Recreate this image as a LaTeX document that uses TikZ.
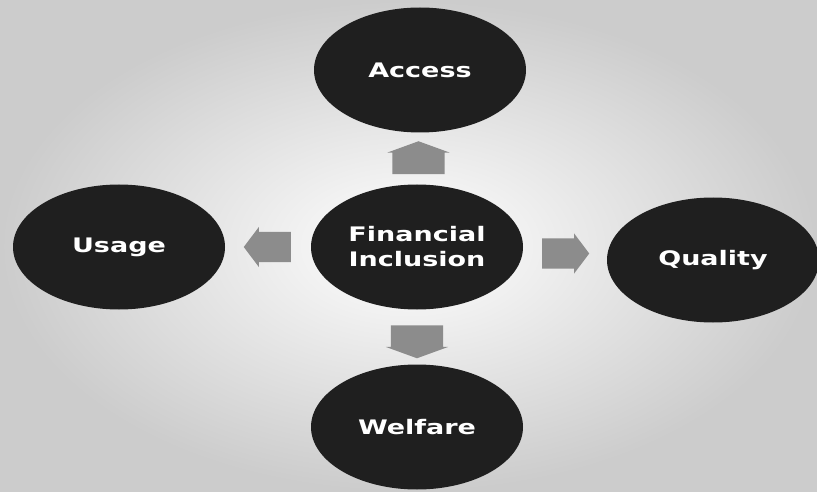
\documentclass[tikz,border=0pt]{standalone}
\usepackage{fontspec}
\setmainfont{DejaVu Sans}
\usetikzlibrary{shapes.geometric,shapes.arrows,calc}

\newcommand{\widetext}[1]{\scalebox{1.35}[1]{#1}}

\tikzset{
    bubble/.style={ellipse, fill=black!88, text=white, inner sep=0pt,
        minimum width=212pt, minimum height=125pt,
        font=\bfseries\fontsize{20}{25}\selectfont, align=center},
    blockarrow/.style={single arrow, fill=black!45, inner xsep=0pt,
        single arrow head extend=5pt},
    flatarrow/.style={blockarrow, inner ysep=26pt, single arrow tip angle=140,
        minimum height=33pt, minimum width=62pt},
    sidearrow/.style={blockarrow, inner ysep=15pt, single arrow tip angle=106,
        minimum height=47pt, minimum width=40pt}
}

\begin{document}
\begin{tikzpicture}[x=1pt, y=-1pt]
                \shade[inner color=white, outer color=black!20] (0,0) rectangle (817,492);
                \useasboundingbox (0,0) rectangle (817,492);
                \node[bubble] (incl) at (417,247) {\widetext{Financial}\\\widetext{Inclusion}};
                \node[bubble] (access) at (420,70) {\widetext{Access}};
                \node[bubble] (usage) at (119,247) {\widetext{Usage}};
                \node[bubble] (quality) at (713,260) {\widetext{Quality}};
                \node[bubble] (welfare) at (417,427) {\widetext{Welfare}};
                \node[flatarrow, rotate=90, xshift=-4pt] (upArrow) at ($(incl)!0.5!(access)$) {};
                \node[sidearrow, rotate=180, xshift=-5pt] (leftArrow) at ($(incl)!0.5!(usage)$) {};
                \node[sidearrow, xshift=-5pt] (rightArrow) at ($(incl)!0.5!(quality)$) {};
                \node[flatarrow, rotate=-90] (downArrow) at ($(incl)!0.5!(welfare)$) {};
            \end{tikzpicture}
\end{document}
